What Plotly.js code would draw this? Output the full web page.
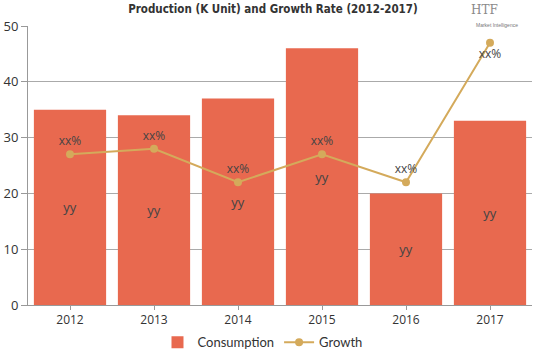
<!DOCTYPE html>
<html><head><meta charset="utf-8">
<script src="https://cdn.plot.ly/plotly-3.0.1.min.js"></script>
<style>html,body{margin:0;padding:0;background:#fff}#c{width:539px;height:359px}</style>
</head><body><div id="c"></div>
<script>
var years = ['2012','2013','2014','2015','2016','2017'];
var consumption = [35, 34, 37, 46, 20, 33];
var growth = [27, 28, 22, 27, 22, 47];
var barLabels = ['yy','yy','yy','yy','yy','yy'];
var growthLabels = ['xx%','xx%','xx%','xx%','xx%','xx%'];

var data = [
  {type:'bar', name:'Consumption', x:years, y:consumption, text:barLabels,
   textposition:'inside', insidetextanchor:'middle',
   textfont:{family:'Open Sans, sans-serif', size:13, color:'#444'},
   marker:{color:'#E8694F'}, hoverinfo:'none'},
  {type:'scatter', mode:'lines+markers+text', name:'Growth', x:years, y:growth,
   text:growthLabels,
   textposition:['top center','top center','top center','top center','top center','bottom center'],
   textfont:{family:'Open Sans, sans-serif', size:12, color:'#444'},
   line:{color:'#D4AA5B', width:2}, marker:{color:'#D4AA5B', size:8}, hoverinfo:'none'}
];
var layout = {
  width:539, height:359,
  margin:{l:28, r:7, t:26, b:54},
  paper_bgcolor:'#fff', plot_bgcolor:'#fff',
  bargap:0.14,
  title:{text:'<b>Production (K Unit) and Growth Rate (2012-2017)</b>',
    font:{family:'DejaVu Sans Condensed', size:11.5, color:'#333'},
    x:0.486, xanchor:'center', xref:'paper', y:0.985, yanchor:'top'},
  xaxis:{type:'category', showline:true, linecolor:'#999', linewidth:1,
    ticks:'outside', ticklen:4, tickcolor:'#999',
    tickfont:{family:'Open Sans, sans-serif', size:12, color:'#333'}, showgrid:false},
  yaxis:{range:[0,50], dtick:10, showline:true, linecolor:'#999', linewidth:1,
    ticks:'outside', ticklen:6, tickcolor:'#999', gridcolor:'#aaa', gridwidth:1,
    tickfont:{family:'Open Sans, sans-serif', size:13, color:'#333'}, zeroline:false},
  legend:{orientation:'h', x:0.487, xanchor:'center', xref:'container', yref:'container', y:0.005, yanchor:'bottom',
    font:{family:'Lato, sans-serif', size:13, color:'#333'}, itemwidth:30, tracegroupgap:0},
  showlegend:true,
  annotations:[
    {xref:'paper', yref:'paper', x:0.905, y:1.088, xanchor:'center', yanchor:'top', showarrow:false,
     text:'HTF', font:{family:'DejaVu Serif, serif', size:12, color:'#8a8a8a'}},
    {xref:'paper', yref:'paper', x:0.93, y:1.02, xanchor:'center', yanchor:'top', showarrow:false,
     text:'Market Intelligence', font:{family:'Liberation Sans, sans-serif', size:5, color:'#777'}}
  ]
};
Plotly.newPlot('c', data, layout, {displayModeBar:false, staticPlot:true});
</script></body></html>
